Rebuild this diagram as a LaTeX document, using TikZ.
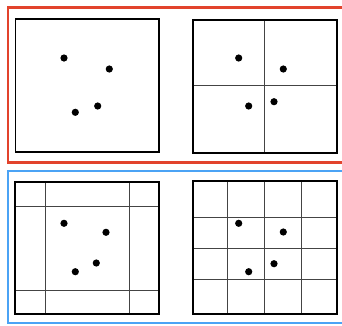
\documentclass[tikz,border=0pt]{standalone}
\definecolor{framered}{HTML}{E2432C}
\definecolor{frameblue}{HTML}{4BA3F5}
\definecolor{gridgray}{HTML}{444444}
\tikzset{
  outerbox/.style={draw=black, line width=1.9pt},
  gridline/.style={draw=gridgray, line width=0.9pt},
  pt/.style={fill=black},
  redframe/.style={draw=framered, line width=2.2pt},
  blueframe/.style={draw=frameblue, line width=2.2pt},
}
\begin{document}
\begin{tikzpicture}[x=1pt,y=-1pt]
\useasboundingbox (0,0) rectangle (342,325);
\begin{scope}
\clip (0,0) rectangle (342,325);
% frames
\draw[redframe] (352,7.5) -- (8,7.5) -- (8,162.5) -- (352,162.5);
\draw[blueframe] (352,171) -- (8,171) -- (8,323) -- (352,323);
\end{scope}
% box 1
\draw[outerbox] (15.5,19) rectangle (159,152);
\foreach \p in {(64,58),(109.3,69),(75.3,112.3),(97.7,106)} \fill[pt] \p circle (3.6);
% box 2
\draw[gridline] (264.3,20) -- (264.3,152.7);
\draw[gridline] (192.7,85.7) -- (336.7,85.7);
\draw[outerbox] (192.7,20) rectangle (336.7,152.7);
\foreach \p in {(238.7,58),(283.3,69),(248.7,106),(274,101.7)} \fill[pt] \p circle (3.6);
% box 3
\foreach \x in {45.3,129.3} \draw[gridline] (\x,181.7) -- (\x,314.3);
\foreach \y in {206.3,290.3} \draw[gridline] (15.3,\y) -- (159,\y);
\draw[outerbox] (15.3,181.7) rectangle (159,314.3);
\foreach \p in {(64,223.3),(106,232.3),(75.3,271.7),(96.3,263)} \fill[pt] \p circle (3.6);
% box 4
\foreach \x in {227.7,264.3,301} \draw[gridline] (\x,181.3) -- (\x,314.3);
\foreach \y in {217.3,248.7,279} \draw[gridline] (192.7,\y) -- (336.7,\y);
\draw[outerbox] (192.7,181.3) rectangle (336.7,314.3);
\foreach \p in {(238.7,223.3),(283.3,232),(248.7,271.7),(274,263.7)} \fill[pt] \p circle (3.6);
\end{tikzpicture}
\end{document}
